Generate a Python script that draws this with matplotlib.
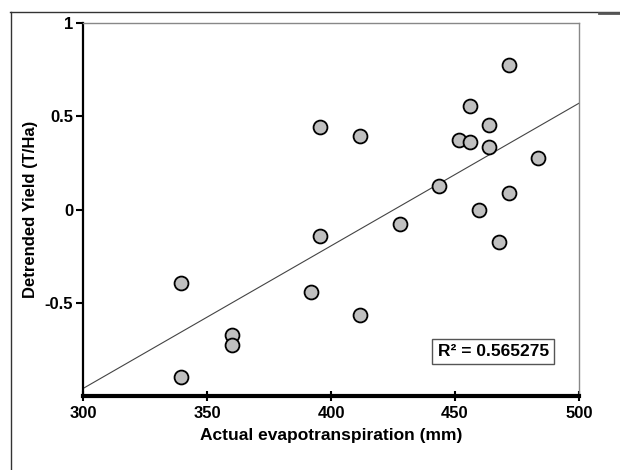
import numpy as np
import matplotlib.pyplot as plt
from matplotlib.lines import Line2D

plt.rcParams['font.family'] = ['Liberation Sans', 'DejaVu Sans']

# actual evapotranspiration (mm) vs detrended yield (T/Ha)
aet = [471.6, 455.9, 463.8, 451.7, 456.2, 463.8, 483.6, 395.6, 411.6, 443.4,
       471.6, 459.8, 427.8, 395.6, 467.6, 339.7, 392.0, 411.6, 359.9, 359.9, 339.7]
yield_dt = [0.777, 0.557, 0.457, 0.375, 0.366, 0.336, 0.277, 0.443, 0.395, 0.129,
            0.091, 0.0, -0.077, -0.139, -0.170, -0.388, -0.441, -0.564, -0.670, -0.723, -0.891]

# fitted trend line
slope = 0.00763
intercept = -3.244
r2_text = 'R² = 0.565275'

xticks = [300, 350, 400, 450, 500]
yticks = [-0.5, 0, 0.5, 1]
yticklabels = ['-0.5', '0', '0.5', '1']

fig = plt.figure(figsize=(6.2, 4.7), dpi=100)
ax = fig.add_axes([83 / 620, 1 - 396 / 470, 496 / 620, 373 / 470])

xl = np.array([300, 500])
ax.plot(xl, slope * xl + intercept, color='#444444', lw=0.8, zorder=2)
ax.plot(aet, yield_dt, 'o', ms=10, mfc='#c0c0c0', mec='black', mew=1.3,
        zorder=3, clip_on=False)

ax.set_xlim(300, 500)
ax.set_ylim(-0.995, 1)
ax.set_xticks(xticks)
ax.set_yticks(yticks)
ax.set_yticklabels(yticklabels)

for sp in ['top', 'right']:
    ax.spines[sp].set_color('#888888')
    ax.spines[sp].set_linewidth(1)
ax.spines['left'].set_linewidth(1.6)
ax.spines['bottom'].set_linewidth(3)

ax.tick_params(axis='y', direction='out', length=5, width=1.5, pad=2,
               labelsize=12)
ax.tick_params(axis='x', direction='inout', length=7, width=1.5, pad=4,
               labelsize=12)
for lab in ax.get_xticklabels() + ax.get_yticklabels():
    lab.set_fontweight('bold')

ax.set_xlabel('Actual evapotranspiration (mm)', fontsize=12.5, fontweight='bold',
              labelpad=5)
ax.set_ylabel('Detrended Yield (T/Ha)', fontsize=12, fontweight='bold',
              labelpad=5)

ax.text(0.827, 0.12, r2_text, transform=ax.transAxes, ha='center', va='center',
        fontsize=12.5, fontweight='bold',
        bbox=dict(boxstyle='square,pad=0.3', fc='white', ec='#555555', lw=1))

# outer frame fragments
fig.add_artist(Line2D([10 / 620, 1], [1 - 11.5 / 470] * 2, color='#333333', lw=1))
fig.add_artist(Line2D([10.5 / 620] * 2, [0, 1 - 11.5 / 470], color='#333333', lw=1))
fig.add_artist(Line2D([599 / 620, 1], [1 - 12.5 / 470] * 2, color='#555555', lw=2))

fig.savefig('out.png', dpi=100)
